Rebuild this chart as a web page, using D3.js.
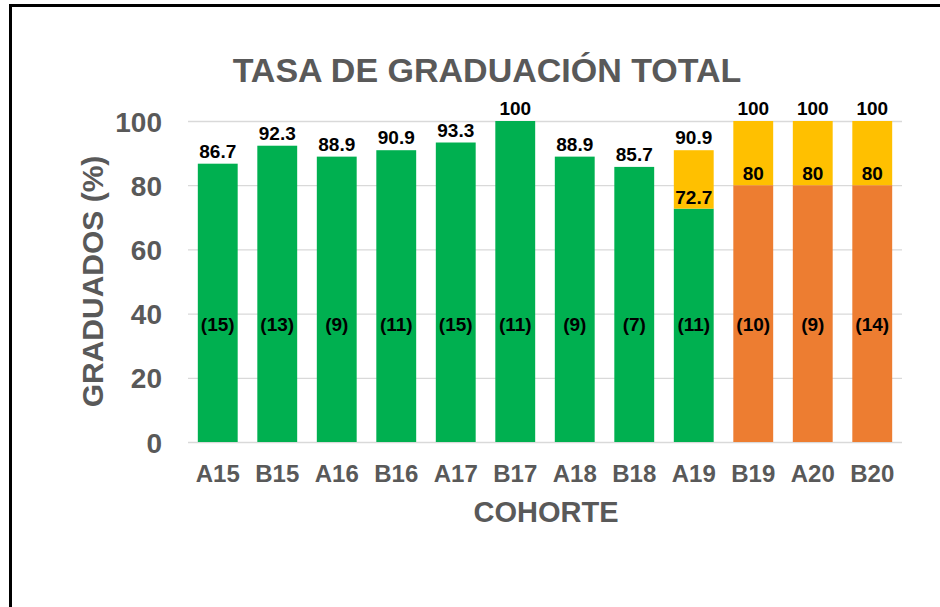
<!DOCTYPE html>
<html>
<head>
<meta charset="utf-8">
<script src="https://cdn.jsdelivr.net/npm/d3@7"></script>
<style>
html,body{margin:0;padding:0;background:#fff;}
svg{display:block;font-family:"Liberation Sans",Arial,sans-serif;}
</style>
</head>
<body>
<svg id="chart" width="940" height="607"></svg>
<script>
const categories = ["A15","B15","A16","B16","A17","B17","A18","B18","A19","B19","A20","B20"];
const greenValues = [86.7,92.3,88.9,90.9,93.3,100,88.9,85.7,72.7,0,0,0];
const orangeValues = [0,0,0,0,0,0,0,0,0,80,80,80];
const totalValues = [86.7,92.3,88.9,90.9,93.3,100,88.9,85.7,90.9,100,100,100];
const counts = ["(15)","(13)","(9)","(11)","(15)","(11)","(9)","(7)","(11)","(10)","(9)","(14)"];
const yTicks = [0,20,40,60,80,100];
const titleText = "TASA DE GRADUACIÓN TOTAL";
const yTitle = "GRADUADOS (%)";
const xTitle = "COHORTE";

(function(){
const colors = {green:"#00B050", orange:"#ED7D31", yellow:"#FFC000"};
const gray = "#595959";

const svg = d3.select("#chart");

// frame
svg.append("rect").attr("x",10.5).attr("y",5.5).attr("width",960).attr("height",640)
  .attr("fill","none").attr("stroke","#000").attr("stroke-width",3);

const pLeft = 188, pRight = 902, pTop = 121, pBottom = 442;
const x = d3.scaleBand().domain(categories).range([pLeft,pRight]).paddingInner(0.33).paddingOuter(0.165);
const y = d3.scaleLinear().domain([0,100]).range([pBottom,pTop]);

// gridlines
svg.append("g").selectAll("line").data(yTicks).join("line")
  .attr("x1",pLeft).attr("x2",pRight)
  .attr("y1",d=>y(d)+0.5).attr("y2",d=>y(d)+0.5)
  .attr("stroke","#d9d9d9").attr("stroke-width",1.3);

// stacked data
const rows = categories.map((c,i)=>({cat:c, green:greenValues[i], orange:orangeValues[i],
  yellow: Math.max(0, +(totalValues[i]-greenValues[i]-orangeValues[i]).toFixed(1))}));
const stack = d3.stack().keys(["green","orange","yellow"])(rows);

svg.append("g").selectAll("g").data(stack).join("g")
  .attr("fill",d=>colors[d.key])
  .selectAll("rect").data(d=>d).join("rect")
  .attr("x",d=>x(d.data.cat))
  .attr("width",x.bandwidth())
  .attr("y",d=>y(d[1]))
  .attr("height",d=>y(d[0])-y(d[1]));

// y axis
const yAxis = d3.axisLeft(y).tickValues(yTicks).tickSize(0).tickPadding(0);
const gy = svg.append("g").attr("transform",`translate(162,0)`).call(yAxis);
gy.select(".domain").remove();
gy.selectAll("text").attr("fill",gray).attr("font-size",28).attr("font-weight","bold")
  .attr("font-family","Liberation Sans, Arial, sans-serif").attr("dy","0.36em");

// x axis
const xAxis = d3.axisBottom(x).tickSize(0).tickPadding(0);
const gx = svg.append("g").attr("transform",`translate(0,${pBottom})`).call(xAxis);
gx.select(".domain").remove();
gx.selectAll("text").attr("fill",gray).attr("font-size",24).attr("font-weight","bold")
  .attr("font-family","Liberation Sans, Arial, sans-serif").attr("dy",null).attr("y",40);

// titles
svg.append("text").attr("x",487).attr("y",82).attr("text-anchor","middle")
  .attr("fill",gray).attr("font-size",34).attr("font-weight","bold").text(titleText);
svg.append("text").attr("x",546).attr("y",522).attr("text-anchor","middle")
  .attr("fill",gray).attr("font-size",29).attr("font-weight","bold").text(xTitle);
svg.append("text").attr("transform",`translate(103,${(pTop+pBottom)/2}) rotate(-90)`)
  .attr("text-anchor","middle").attr("fill",gray).attr("font-size",30).attr("font-weight","bold").text(yTitle);

// value labels on top
const labels = svg.append("g").attr("font-weight","bold").attr("font-size",19).attr("fill","#000").attr("text-anchor","middle");
labels.selectAll("text.top").data(categories).join("text").attr("class","top")
  .attr("x",c=>x(c)+x.bandwidth()/2)
  .attr("y",(c,i)=>y(totalValues[i])-6)
  .text((c,i)=>String(totalValues[i]));

// inner boundary labels where a yellow segment exists
const innerIdx = rows.map((r,i)=>i).filter(i=>rows[i].yellow>0);
labels.selectAll("text.inner").data(innerIdx).join("text").attr("class","inner")
  .attr("x",i=>x(categories[i])+x.bandwidth()/2)
  .attr("y",i=>y(greenValues[i]+orangeValues[i])-5)
  .text(i=>String(greenValues[i]+orangeValues[i]));

// count labels
labels.selectAll("text.count").data(categories).join("text").attr("class","count")
  .attr("x",c=>x(c)+x.bandwidth()/2)
  .attr("y",y(36.5)).attr("dy","0.35em")
  .text((c,i)=>counts[i]);
})();
</script>
</body>
</html>
